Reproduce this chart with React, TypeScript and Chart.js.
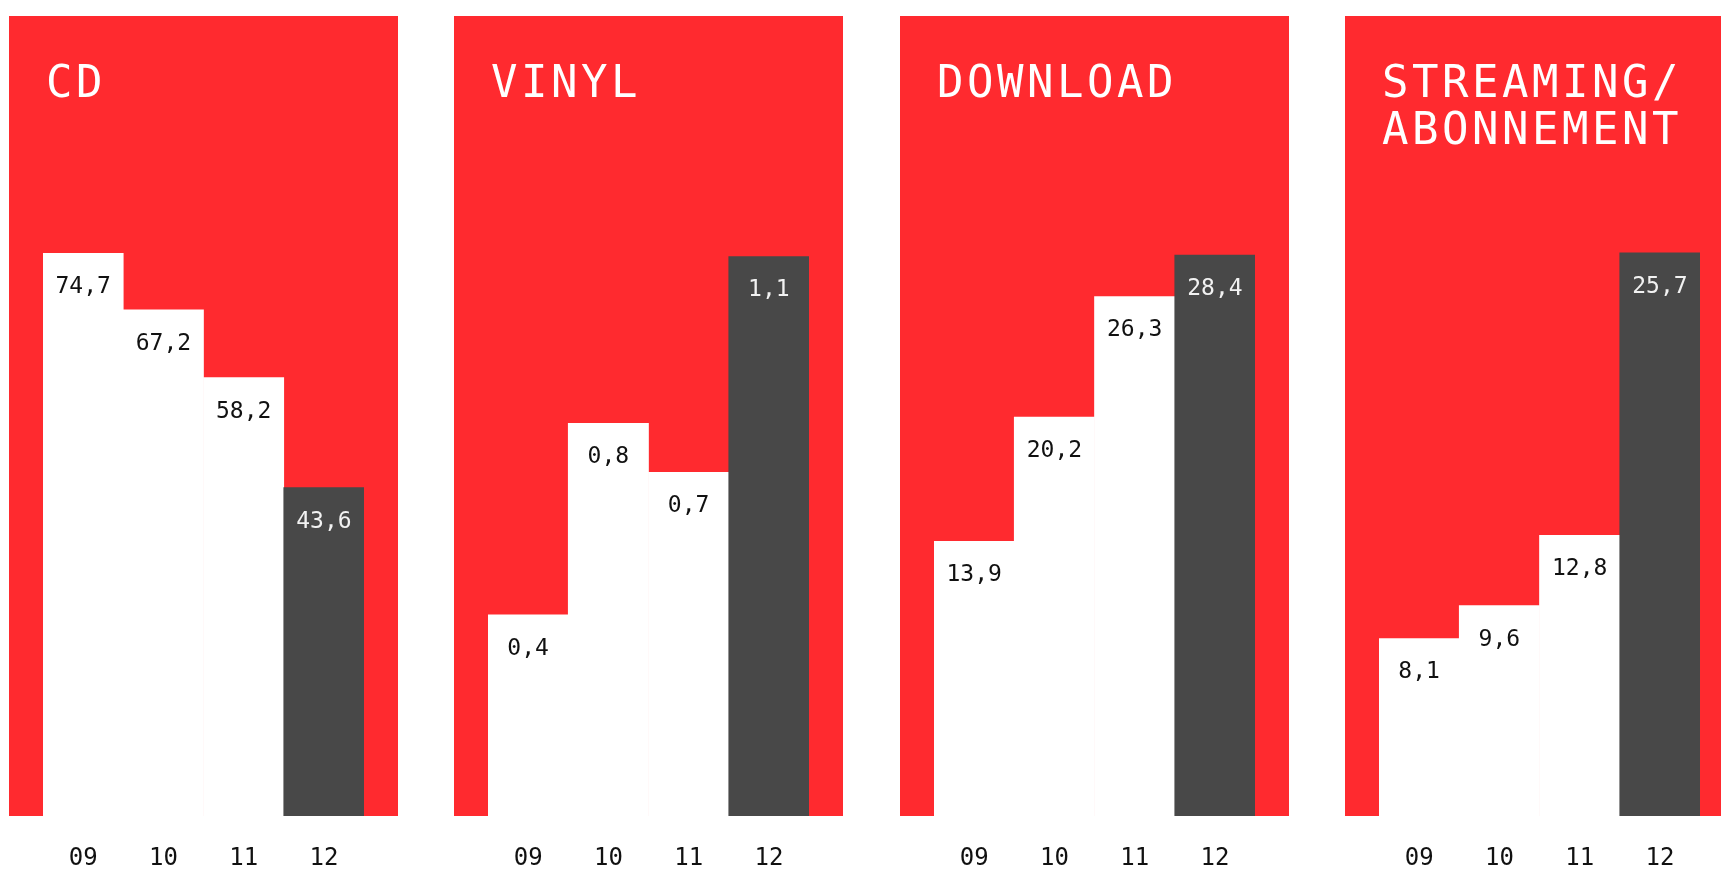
import React, { useEffect, useRef } from "react";
import { Chart, registerables } from "chart.js";

Chart.register(...registerables);

const years = ["09", "10", "11", "12"];
const panelTitles = [["CD"], ["VINYL"], ["DOWNLOAD"], ["STREAMING/", "ABONNEMENT"]];
const cdValues = [74.7, 67.2, 58.2, 43.6];
const vinylValues = [0.41, 0.8, 0.7, 1.14];
const downloadValues = [13.9, 20.2, 26.3, 28.4];
const streamingValues = [8.1, 9.6, 12.8, 25.7];
const axisMax = [106.2, 1.63, 40.5, 36.5];

const RED = "#ff2a2f";
const DARK = "#484848";
const MONO = "'DejaVu Sans Mono', monospace";

const PANEL_W = 389;
const CANVAS_H = 857;
const AXIS_H = 57;

const redBackground = {
  id: "redBackground",
  beforeDraw(chart: any) {
    const { ctx, chartArea, width } = chart;
    ctx.save();
    ctx.fillStyle = RED;
    ctx.fillRect(0, 0, width, chartArea.bottom);
    ctx.restore();
  },
};

const valueLabels = {
  id: "valueLabels",
  afterDatasetsDraw(chart: any) {
    const { ctx } = chart;
    const meta = chart.getDatasetMeta(0);
    const data = chart.data.datasets[0].data as number[];
    ctx.save();
    ctx.font = `23px ${MONO}`;
    ctx.textAlign = "center";
    ctx.textBaseline = "middle";
    meta.data.forEach((bar: any, i: number) => {
      ctx.fillStyle = i === data.length - 1 ? "#f2f2f2" : "#111";
      const txt = data[i].toFixed(1).replace(".", ",");
      ctx.fillText(txt, bar.x, bar.y + 34);
    });
    ctx.restore();
  },
};

function Panel({ values, max, title, left }: { values: number[]; max: number; title: string[]; left: number }) {
  const ref = useRef<HTMLCanvasElement>(null);
  useEffect(() => {
    if (!ref.current) return;
    const chart = new Chart(ref.current, {
      type: "bar",
      data: {
        labels: years,
        datasets: [
          {
            data: values,
            backgroundColor: values.map((_, i) => (i === values.length - 1 ? DARK : "#ffffff")),
            borderWidth: 0,
            barPercentage: 1,
            categoryPercentage: 1,
          },
        ],
      },
      options: {
        responsive: false,
        animation: false,
        devicePixelRatio: 1,
        layout: { padding: { left: 34, right: 34, top: 0, bottom: 0 } },
        plugins: { legend: { display: false }, tooltip: { enabled: false }, title: { display: false } },
        scales: {
          x: {
            grid: { display: false, drawTicks: false },
            border: { display: false },
            ticks: { color: "#111", font: { family: MONO, size: 24 }, padding: 28 },
            afterFit: (scale: any) => {
              scale.height = AXIS_H;
            },
          },
          y: { display: false, min: 0, max },
        },
      },
      plugins: [redBackground, valueLabels],
    });
    return () => chart.destroy();
  }, []);
  return (
    <div style={{ position: "absolute", left, top: 16, width: PANEL_W, height: CANVAS_H }}>
      <canvas ref={ref} width={PANEL_W} height={CANVAS_H} style={{ display: "block", width: PANEL_W, height: CANVAS_H }} />
      <div
        style={{
          position: "absolute",
          left: 37,
          top: 42,
          color: "#fff",
          fontFamily: MONO,
          fontSize: 44,
          lineHeight: "47px",
          letterSpacing: "3.5px",
          whiteSpace: "nowrap",
          pointerEvents: "none",
        }}
      >
        {title.map((t, i) => (
          <div key={i}>{t}</div>
        ))}
      </div>
    </div>
  );
}

export default function App() {
  const series = [cdValues, vinylValues, downloadValues, streamingValues];
  return (
    <div style={{ position: "fixed", left: 0, top: 0, width: "100vw", height: "100vh", overflow: "hidden", background: "#fff" }}>
      {series.map((vals, i) => (
        <Panel key={i} values={vals} max={axisMax[i]} title={panelTitles[i]} left={9 + Math.round(i * 445.33)} />
      ))}
    </div>
  );
}
